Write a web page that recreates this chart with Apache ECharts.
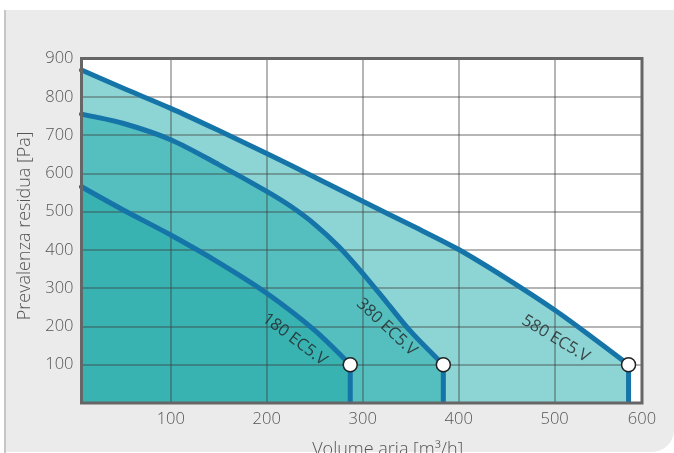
<!DOCTYPE html>
<html>
<head>
<meta charset="utf-8">
<script src="https://cdn.jsdelivr.net/npm/echarts@6/dist/echarts.min.js"></script>
<style>
  html, body { margin: 0; padding: 0; background: #ffffff; }
  #chart { width: 674px; height: 453px; }
</style>
</head>
<body>
<div id="chart"></div>
<script>
// ---- data ----
const xTickValues = [100, 200, 300, 400, 500];
const xTickLabels = ['100', '200', '300', '400', '500', '600'];
const yTickValues = [100, 200, 300, 400, 500, 600, 700, 800, 900];

const curve580x = [7, 50, 100, 150, 200, 250, 300, 350, 400, 450, 500, 540, 577];
const curve580y = [870, 823, 770, 712, 652, 590, 527, 465, 401, 325, 243, 170, 100];

const curve380x = [7, 50, 100, 150, 200, 225, 250, 275, 300, 325, 350, 384];
const curve380y = [755, 731, 688, 623, 553, 514, 467, 409, 339, 263, 187, 100];

const curve180x = [7, 50, 100, 150, 200, 250, 287];
const curve180y = [565, 505, 439, 367, 287, 190, 100];

const modelNames = ['180 EC5.V', '380 EC5.V', '580 EC5.V'];
// anchor (in data units) of each curve's label
const labelX = [229, 325, 501];
const labelY = [166, 198, 168];
const labelAngle = [-37, -43, -31];

const xMin = 7, xMax = 591;

function pairs(xs, ys) { return xs.map((x, i) => [x, ys[i]]); }

const c580 = pairs(curve580x, curve580y);
const c380 = pairs(curve380x, curve380y);
const c180 = pairs(curve180x, curve180y);

const fills = ['#8dd4d4', '#55bebe', '#39b2b2'];
const lineBlue = '#1574a8';
const curves = [c580, c380, c180];
const FONT = 'Open Sans';
const SMOOTH = 0.3;

const series = [];
curves.forEach((c, i) => {
  series.push({
    type: 'line', data: c, smooth: SMOOTH, symbol: 'none', z: 1 + i * 0.01,
    lineStyle: { width: 0, opacity: 0 },
    areaStyle: { color: fills[i], opacity: 1 },
    silent: true
  });
});
curves.forEach((c) => {
  series.push({
    type: 'line', data: c, smooth: SMOOTH, symbol: 'none', z: 5,
    lineStyle: { width: 5, color: lineBlue, cap: 'round' },
    silent: true
  });
  const e = c[c.length - 1];
  series.push({
    type: 'line', data: [[e[0], e[1]], [e[0], 0]], symbol: 'none', z: 5,
    lineStyle: { width: 5, color: lineBlue },
    silent: true
  });
});
series.push({
  type: 'scatter', z: 8, symbol: 'circle', symbolSize: 14,
  data: curves.map(c => c[c.length - 1]),
  itemStyle: { color: '#ffffff', borderColor: '#222222', borderWidth: 1.5, opacity: 1 },
  silent: true
});
series.push({
  type: 'scatter', z: 9, symbolSize: 0,
  data: modelNames.map((n, i) => ({
    value: [labelX[i], labelY[i]],
    label: {
      show: true, position: 'inside', formatter: n, rotate: labelAngle[i],
      color: '#231f20', fontSize: 16.5, fontFamily: FONT, fontWeight: 400
    }
  })),
  silent: true
});

const gridPos = { left: 81.5, top: 58.6, right: 32, bottom: 50, outerBoundsMode: 'none', containLabel: false };
const axisFont = { color: '#555555', fontSize: 16.5, fontFamily: FONT, fontWeight: 300 };
const nameFont = { color: '#555555', fontSize: 18, fontFamily: FONT, fontWeight: 300 };

const chart = echarts.init(document.getElementById('chart'), null, { renderer: 'canvas' });
chart.setOption({
  backgroundColor: '#ffffff',
  animation: false,
  graphic: [
    { type: 'rect', z: -10, silent: true,
      shape: { x: 4, y: 10, width: 670, height: 442, r: [0, 0, 22, 0] },
      style: { fill: '#ebebeb' } },
    { type: 'rect', z: -9, silent: true,
      shape: { x: 4, y: 10, width: 2, height: 443 },
      style: { fill: '#c6c6c6' } }
  ],
  grid: [
    Object.assign({ show: true, z: 0, borderWidth: 0, backgroundColor: '#ffffff' }, gridPos),
    Object.assign({ show: true, z: 20, borderColor: '#666666', borderWidth: 3, backgroundColor: 'transparent' }, gridPos)
  ],
  xAxis: {
    type: 'value', min: xMin, max: xMax, z: 3, gridIndex: 0,
    name: 'Volume aria [m³/h]', nameLocation: 'middle', nameGap: 38,
    nameTextStyle: Object.assign({}, nameFont, { padding: [0, 0, 0, 52] }),
    axisLine: { show: false },
    axisTick: { show: false, customValues: xTickValues },
    axisLabel: Object.assign({
      customValues: xTickValues.concat([xMax]),
      formatter: (v) => v >= xMax ? xTickLabels[xTickLabels.length - 1] : xTickLabels[xTickValues.indexOf(v)],
      margin: 8
    }, axisFont),
    splitLine: { show: true, lineStyle: { color: 'rgba(60,60,60,0.5)', width: 1.5 } }
  },
  yAxis: {
    type: 'value', min: 0, max: 900, interval: 100, z: 3, gridIndex: 0,
    name: 'Prevalenza residua [Pa]', nameLocation: 'middle', nameGap: 44,
    nameTextStyle: Object.assign({}, nameFont, { padding: [0, 0, 0, 10] }),
    axisLine: { show: false },
    axisTick: { show: false },
    axisLabel: Object.assign({
      formatter: (v) => yTickValues.indexOf(v) >= 0 ? String(v) : '',
      margin: 8,
      padding: [0, 0, 6, 0]
    }, axisFont),
    splitLine: { show: true, lineStyle: { color: 'rgba(60,60,60,0.5)', width: 1.5 } }
  },
  series: series
});
</script>
</body>
</html>
